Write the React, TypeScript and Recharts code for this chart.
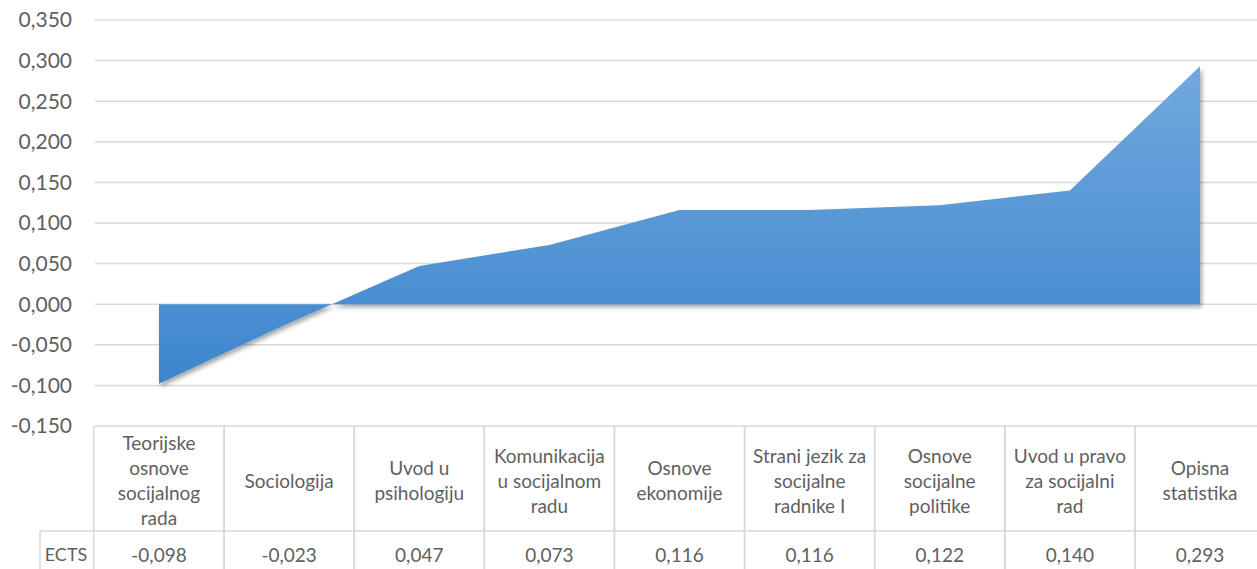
import React from 'react';
import { Area, AreaChart, CartesianGrid, XAxis, YAxis } from 'recharts';

// predmeti (redovi loma kao na slici) i ECTS korelacije
const categories = [
  'Teorijske\nosnove\nsocijalnog\nrada',
  'Sociologija',
  'Uvod u\npsihologiju',
  'Komunikacija\nu socijalnom\nradu',
  'Osnove\nekonomije',
  'Strani jezik za\nsocijalne\nradnike I',
  'Osnove\nsocijalne\npolitike',
  'Uvod u pravo\nza socijalni\nrad',
  'Opisna\nstatistika',
];
const ectsValues = [-0.098, -0.023, 0.047, 0.073, 0.116, 0.116, 0.122, 0.14, 0.293];
const yTicks = [-0.15, -0.1, -0.05, 0, 0.05, 0.1, 0.15, 0.2, 0.25, 0.3, 0.35];
const seriesName = 'ECTS';

const data = categories.map((c, i) => ({ name: c, ects: ectsValues[i] }));

const FONT = 'Lato, "Open Sans", sans-serif';
const TEXT = '#5f5f5f';
const GRID = '#d9d9d9';
const W = 1257;
const H = 569;
const HALF_COL = 65.2;

const fmt = (v: number) => v.toFixed(3).replace('.', ',');

function TableTick(props: any) {
  const { x, y, payload, index } = props;
  const lines = String(payload.value).split('\n');
  const rowSplit = y + 105;
  const lineH = 25;
  const startY = y + 55 - ((lines.length - 1) * lineH) / 2;
  return (
    <g>
      <line x1={x - HALF_COL} x2={x - HALF_COL} y1={y} y2={H} stroke={GRID} strokeWidth={1.5} />
      <line x1={x + HALF_COL} x2={x + HALF_COL} y1={y} y2={H} stroke={GRID} strokeWidth={1.5} />
      <line x1={x - HALF_COL} x2={x + HALF_COL} y1={rowSplit} y2={rowSplit} stroke={GRID} strokeWidth={1.5} />
      {index === 0 && (
        <g>
          <line x1={40} x2={x - HALF_COL} y1={rowSplit} y2={rowSplit} stroke={GRID} strokeWidth={1.5} />
          <line x1={40} x2={40} y1={rowSplit} y2={H} stroke={GRID} strokeWidth={1.5} />
          <text x={66} y={rowSplit + 24} dy="0.35em" textAnchor="middle" fill={TEXT} fontSize={18} fontFamily={FONT}>
            {seriesName}
          </text>
        </g>
      )}
      <text textAnchor="middle" fill={TEXT} fontSize={19} fontFamily={FONT}>
        {lines.map((l, i) => (
          <tspan key={i} x={x} y={startY + i * lineH} dy="0.35em">
            {l}
          </tspan>
        ))}
      </text>
      <text x={x} y={rowSplit + 24} dy="0.35em" textAnchor="middle" fill={TEXT} fontSize={19} fontFamily={FONT}>
        {fmt(ectsValues[index])}
      </text>
    </g>
  );
}

export default function App() {
  return (
    <div style={{ position: 'absolute', left: 0, top: 0, width: W, height: H, background: '#fff' }}>
      <AreaChart width={W} height={H} data={data} margin={{ top: 20, right: 0, bottom: 0, left: 0 }}>
        <defs>
          <linearGradient id="areaFill" x1="0" y1="0" x2="0" y2="1">
            <stop offset="0%" stopColor="#72a8de" />
            <stop offset="100%" stopColor="#3d86cd" />
          </linearGradient>
          <filter id="shadow" x="-5%" y="-5%" width="110%" height="120%">
            <feDropShadow dx={2} dy={3} stdDeviation={2} floodColor="#000" floodOpacity={0.35} />
          </filter>
        </defs>
        <CartesianGrid vertical={false} stroke={GRID} strokeWidth={1.5} />
        <YAxis
          type="number"
          domain={[-0.15, 0.35]}
          ticks={yTicks}
          width={95}
          axisLine={false}
          tickLine={false}
          tickSize={0}
          tickMargin={23}
          tickFormatter={fmt}
          tick={{ fill: TEXT, fontSize: 21, fontFamily: FONT }}
          interval={0}
        />
        <XAxis
          dataKey="name"
          height={143}
          axisLine={false}
          tickLine={false}
          tickSize={0}
          tickMargin={0}
          padding={{ left: 64, right: 57 }}
          interval={0}
          tick={<TableTick />}
        />
        <Area
          type="linear"
          dataKey="ects"
          stroke="none"
          fill="url(#areaFill)"
          fillOpacity={1}
          filter="url(#shadow)"
          isAnimationActive={false}
        />
      </AreaChart>
    </div>
  );
}
